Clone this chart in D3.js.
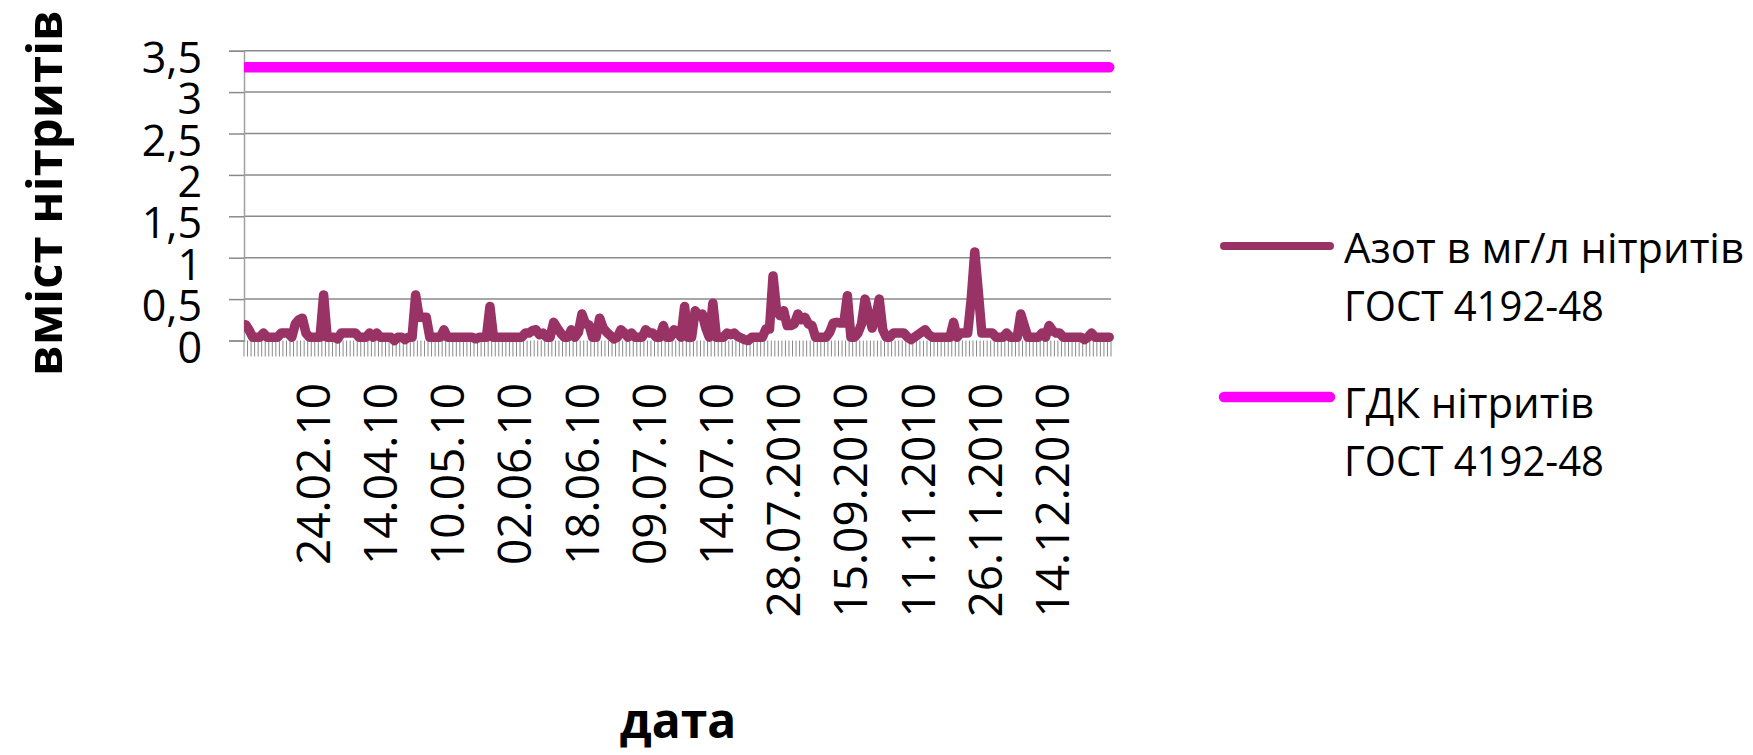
<!DOCTYPE html>
<html>
<head>
<meta charset="utf-8">
<script src="https://cdn.jsdelivr.net/npm/d3@7"></script>
<style>
  html, body { margin: 0; padding: 0; background: #fff; }
  svg { display: block; }
</style>
</head>
<body>
<div id="chart"></div>
<script>
// Nitrite nitrogen (mg/l) by sampling date, with the ГДК limit line.
// Values, one per category.

const nitrite = [
  0.19, 0.12, 0.04, 0.04, 0.04, 0.09, 0.04, 0.04, 0.04, 0.04,
  0.09, 0.09, 0.09, 0.04, 0.2,  0.25, 0.27, 0.09, 0.04, 0.04,
  0.04, 0.04, 0.55, 0.04, 0.04, 0.04, 0.02, 0.09, 0.09, 0.09,
  0.09, 0.09, 0.04, 0.04, 0.04, 0.09, 0.04, 0.09, 0.04, 0.04,
  0.04, 0.04, 0.0,  0.04, 0.04, 0.01, 0.04, 0.04, 0.55, 0.28,
  0.28, 0.28, 0.04, 0.04, 0.04, 0.04, 0.13, 0.04, 0.04, 0.04,
  0.04, 0.04, 0.04, 0.04, 0.04, 0.02, 0.04, 0.04, 0.04, 0.41,
  0.04, 0.04, 0.04, 0.04, 0.04, 0.04, 0.04, 0.04, 0.04, 0.09,
  0.09, 0.12, 0.13, 0.07, 0.09, 0.04, 0.04, 0.22, 0.15, 0.09,
  0.04, 0.04, 0.13, 0.04, 0.1,  0.32, 0.2,  0.19, 0.04, 0.04,
  0.27, 0.15, 0.1,  0.06, 0.02, 0.04, 0.13, 0.09, 0.04, 0.09,
  0.04, 0.04, 0.04, 0.13, 0.09, 0.09, 0.04, 0.04, 0.18, 0.04,
  0.04, 0.13, 0.1,  0.04, 0.41, 0.04, 0.04, 0.36, 0.3,  0.32,
  0.15, 0.04, 0.45, 0.04, 0.04, 0.04, 0.09, 0.07, 0.09, 0.05,
  0.03, 0.01, 0.0,  0.04, 0.04, 0.04, 0.04, 0.14, 0.14, 0.78,
  0.36, 0.3,  0.36, 0.18, 0.18, 0.2,  0.32, 0.25, 0.28, 0.2,
  0.18, 0.04, 0.04, 0.04, 0.04, 0.1,  0.21, 0.22, 0.21, 0.21,
  0.54, 0.04, 0.04, 0.09, 0.2,  0.5,  0.32, 0.15, 0.27, 0.5,
  0.13, 0.04, 0.04, 0.09, 0.09, 0.09, 0.09, 0.04, 0.01, 0.04,
  0.07, 0.1,  0.13, 0.07, 0.04, 0.04, 0.04, 0.04, 0.04, 0.04,
  0.22, 0.04, 0.09, 0.09, 0.09, 0.5,  1.07, 0.59, 0.09, 0.09,
  0.09, 0.09, 0.04, 0.04, 0.04, 0.09, 0.04, 0.04, 0.04, 0.32,
  0.18, 0.04, 0.04, 0.04, 0.04, 0.09, 0.04, 0.18, 0.12, 0.09,
  0.09, 0.04, 0.04, 0.04, 0.04, 0.04, 0.04, 0.01, 0.04, 0.09,
  0.04, 0.04, 0.04, 0.04, 0.04
];

// Only every 19th category carries a visible date label
const dateLabels = [
  "24.02.10", "14.04.10", "10.05.10", "02.06.10", "18.06.10", "09.07.10",
  "14.07.10", "28.07.2010", "15.09.2010", "11.11.2010", "26.11.2010", "14.12.2010"
];
const labelStep = 19;

const gdkLimit = 3.3;

const yTicks = [0, 0.5, 1, 1.5, 2, 2.5, 3, 3.5];

const seriesNames = ["Азот в мг/л нітритів", "ГДК нітритів"];
const seriesSub   = "ГОСТ 4192-48";

const FONT   = "'Open Sans', 'DejaVu Sans', sans-serif";
const PURPLE = "#993366";
const PINK   = "#ff00ff";
const GRID   = "#8a8a8a";

const W = 1753, H = 755;
const plot = { left: 244, right: 1111, top: 50.7, bottom: 340.5 };

const svg = d3.select("#chart").append("svg")
  .attr("width", W)
  .attr("height", H)
  .attr("viewBox", `0 0 ${W} ${H}`);

const categories = d3.range(nitrite.length);

const x = d3.scaleBand()
  .domain(categories)
  .range([plot.left, plot.right])
  .padding(0);

const y = d3.scaleLinear()
  .domain([0, 3.5])
  .range([plot.bottom, plot.top]);

const cx = i => x(i) + x.bandwidth() / 2;

svg.append("clipPath").attr("id", "plot-clip")
  .append("rect")
    .attr("x", plot.left)
    .attr("y", 0)
    .attr("width", W - plot.left)
    .attr("height", H);

drawGrid();
drawYAxis();
drawXAxis();
drawSeries();
drawLegend();
drawTitles();

function drawGrid() {
  svg.append("g")
    .selectAll("line")
    .data(yTicks.filter(d => d > 0))
    .join("line")
      .attr("x1", plot.left)
      .attr("x2", plot.right)
      .attr("y1", d => y(d))
      .attr("y2", d => y(d))
      .attr("stroke", GRID)
      .attr("stroke-width", 1.5);
}

function drawYAxis() {
  const g = svg.append("g")
    .attr("transform", `translate(${plot.left},0)`)
    .call(d3.axisLeft(y)
      .tickValues(yTicks)
      .tickSize(15)
      .tickPadding(27)
      .tickFormat(d => String(d).replace(".", ",")));

  g.select(".domain").attr("stroke", "#a0a0a0").attr("stroke-width", 1.5);
  g.selectAll(".tick line").attr("stroke", GRID).attr("stroke-width", 1.5);
  g.selectAll(".tick text")
    .attr("fill", "#000")
    .attr("font-family", FONT)
    .attr("font-size", "43px")
    .attr("dy", "0.5em");
}

function drawXAxis() {
  const step = x.step();
  const bounds = categories.concat([nitrite.length]);

  svg.append("g")
    .selectAll("line")
    .data(bounds)
    .join("line")
      .attr("x1", d => plot.left + d * step)
      .attr("x2", d => plot.left + d * step)
      .attr("y1", plot.bottom)
      .attr("y2", plot.bottom + 16)
      .attr("stroke", GRID)
      .attr("stroke-width", 1);

  svg.append("g")
    .selectAll("text")
    .data(dateLabels)
    .join("text")
      .attr("transform", (d, j) => `translate(${cx((j + 1) * labelStep)},383) rotate(-90)`)
      .attr("text-anchor", "end")
      .attr("dy", "0.36em")
      .attr("fill", "#000")
      .attr("font-family", FONT)
      .attr("font-size", "46px")
      .text(d => d);
}

function drawSeries() {
  const g = svg.append("g").attr("clip-path", "url(#plot-clip)");

  g.append("line")
    .attr("x1", cx(0))
    .attr("x2", cx(nitrite.length - 1))
    .attr("y1", y(gdkLimit))
    .attr("y2", y(gdkLimit))
    .attr("stroke", PINK)
    .attr("stroke-width", 10.5)
    .attr("stroke-linecap", "round");

  const line = d3.line()
    .x((d, i) => cx(i))
    .y(d => y(d));

  g.append("path")
    .datum(nitrite)
    .attr("d", line)
    .attr("fill", "none")
    .attr("stroke", PURPLE)
    .attr("stroke-width", 9.5)
    .attr("stroke-linejoin", "round")
    .attr("stroke-linecap", "round");
}

function drawLegend() {
  // marker y, then baselines of the two text rows
  const items = [
    { name: seriesNames[0], color: PURPLE, width: 8,    y: 246, row1: 263, row2: 321, nameLen: 400 },
    { name: seriesNames[1], color: PINK,   width: 10.5, y: 397, row1: 418, row2: 476, nameLen: 250 },
  ];

  const g = svg.append("g");

  g.selectAll("line")
    .data(items)
    .join("line")
      .attr("x1", 1224)
      .attr("x2", 1330)
      .attr("y1", d => d.y)
      .attr("y2", d => d.y)
      .attr("stroke", d => d.color)
      .attr("stroke-width", d => d.width)
      .attr("stroke-linecap", "round");

  g.selectAll(".lg-name")
    .data(items)
    .join("text")
      .attr("class", "lg-name")
      .attr("x", 1344)
      .attr("y", d => d.row1)
      .attr("font-family", FONT)
      .attr("font-size", "42px")
      .attr("textLength", d => d.nameLen)
      .attr("lengthAdjust", "spacingAndGlyphs")
      .text(d => d.name);

  g.selectAll(".lg-sub")
    .data(items)
    .join("text")
      .attr("class", "lg-sub")
      .attr("x", 1344)
      .attr("y", d => d.row2)
      .attr("font-family", FONT)
      .attr("font-size", "42px")
      .attr("textLength", 260)
      .attr("lengthAdjust", "spacingAndGlyphs")
      .text(seriesSub);
}

function drawTitles() {
  svg.append("text")
    .attr("transform", "translate(62,193) rotate(-90)")
    .attr("text-anchor", "middle")
    .attr("font-family", FONT)
    .attr("font-weight", "700")
    .attr("font-size", "49px")
    .text("вміст нітритів");

  svg.append("text")
    .attr("x", 678)
    .attr("y", 738)
    .attr("text-anchor", "middle")
    .attr("font-family", FONT)
    .attr("font-weight", "700")
    .attr("font-size", "48px")
    .text("дата");
}
</script>
</body>
</html>
